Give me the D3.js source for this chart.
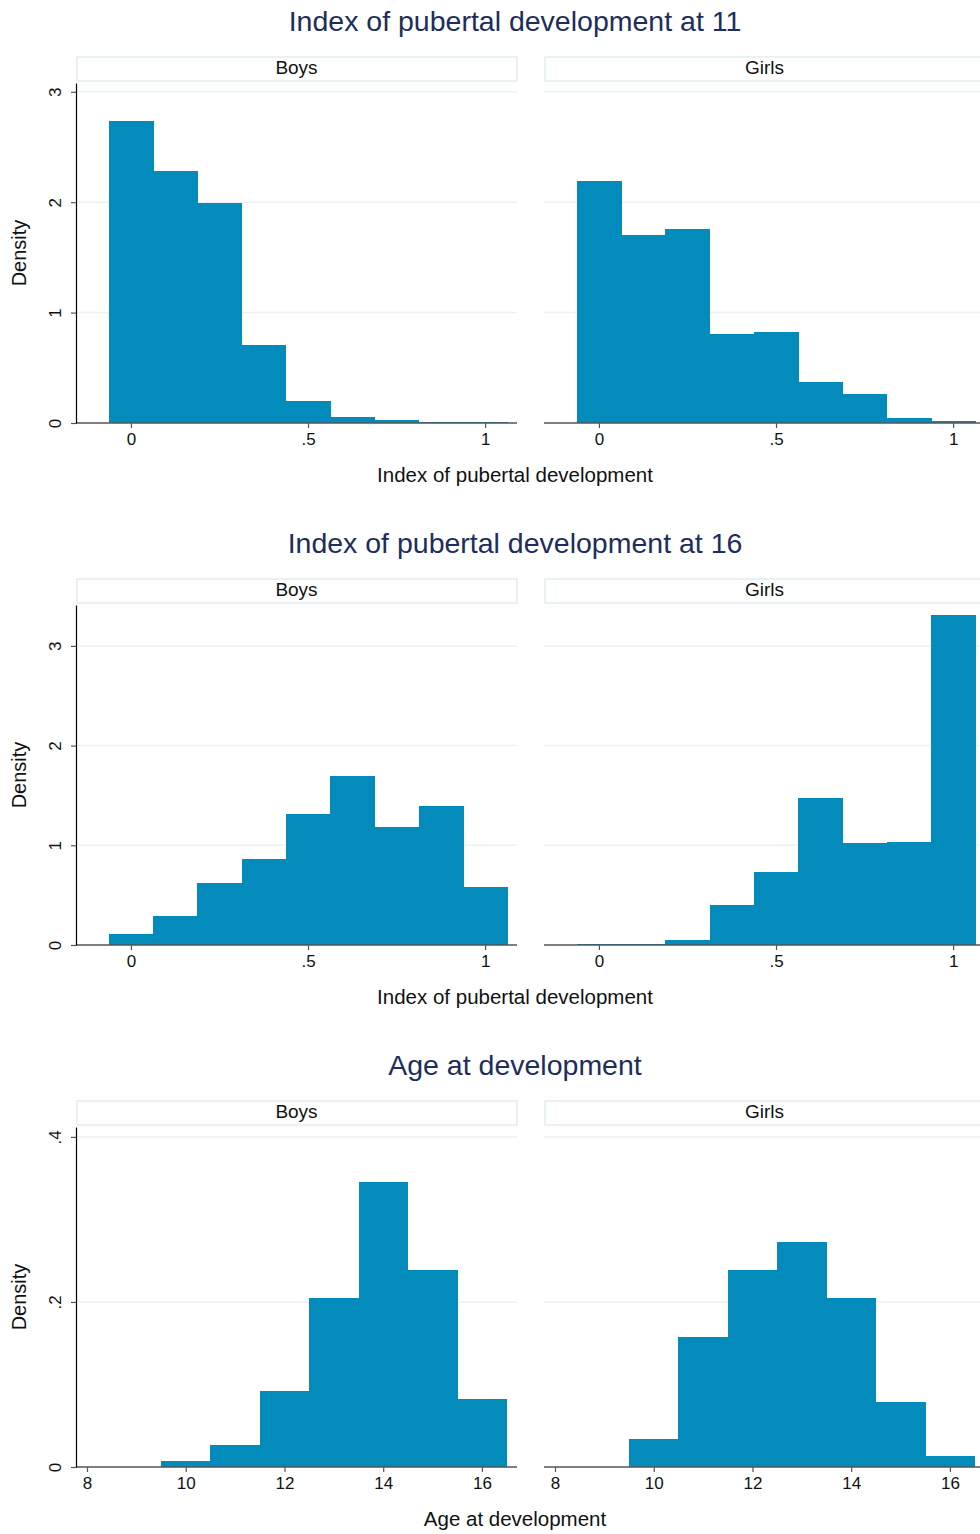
<!DOCTYPE html>
<html>
<head>
<meta charset="utf-8">
<script src="https://cdn.jsdelivr.net/npm/d3@7"></script>
<style>
  body { margin: 0; background: #fff; }
  svg { display: block; font-family: "Liberation Sans", Arial, sans-serif; }
</style>
</head>
<body>
<script>
// facet labels and titles
let groups = ["Boys", "Girls"];
let panelTitles = ["Index of pubertal development at 11", "Index of pubertal development at 16", "Age at development"];
let xTitles = ["Index of pubertal development", "Index of pubertal development", "Age at development"];

// bin left edges
let pubertyBins = [-0.0625, 0.0625, 0.1875, 0.3125, 0.4375, 0.5625, 0.6875, 0.8125, 0.9375];
let pubertyBinWidth = 0.125;
let ageBins = [9.5, 10.5, 11.5, 12.5, 13.5, 14.5, 15.5];
let ageBinWidth = 1;

// densities
let boys11 = [2.74, 2.28, 1.99, 0.71, 0.20, 0.057, 0.027, 0.01, 0.01];
let girls11 = [2.19, 1.70, 1.76, 0.81, 0.82, 0.37, 0.26, 0.043, 0.018];
let boys16 = [0.11, 0.29, 0.62, 0.86, 1.31, 1.69, 1.18, 1.39, 0.58];
let girls16 = [0.015, 0.013, 0.053, 0.40, 0.73, 1.47, 1.02, 1.03, 3.31];
let boysAge = [0.0073, 0.0266, 0.0918, 0.2046, 0.345, 0.2385, 0.0826];
let girlsAge = [0.0338, 0.157, 0.239, 0.273, 0.205, 0.0786, 0.0129];

// ticks
let pubertyTicks = [0, 0.5, 1];
let ageTicks = [8, 10, 12, 14, 16];
let yTicks11 = [0, 1, 2, 3];
let yTicks16 = [0, 1, 2, 3];
let yTicksAge = [0, 0.2, 0.4];

let panels = [
  { title: panelTitles[0], xTitle: xTitles[0], bins: pubertyBins, bw: pubertyBinWidth,
    series: [boys11, girls11], xDomain: [-0.155, 1.09], yMax: 3.08, xTicks: pubertyTicks, yTicks: yTicks11 },
  { title: panelTitles[1], xTitle: xTitles[1], bins: pubertyBins, bw: pubertyBinWidth,
    series: [boys16, girls16], xDomain: [-0.155, 1.09], yMax: 3.41, xTicks: pubertyTicks, yTicks: yTicks16 },
  { title: panelTitles[2], xTitle: xTitles[2], bins: ageBins, bw: ageBinWidth,
    series: [boysAge, girlsAge], xDomain: [7.777, 16.71], yMax: 0.412, xTicks: ageTicks, yTicks: yTicksAge }
];

let w = 980;
let h = 1534;
let panelStep = 522;
let plotW = 441;
let plotTop = 83;
let plotBottom = 423;
let facetX = [76, 544];
let barColor = "#038bbb";

// stata style: drop leading zero
let fmt = (v) => {
  let s = String(+v.toFixed(3));
  return s.replace(/^0\./, ".");
};

let svg = d3.select("body")
  .append("svg")
  .attr("width", w)
  .attr("height", h);

panels.forEach((p, i) => {
  let g = svg.append("g").attr("transform", "translate(0," + (i * panelStep) + ")");

  g.append("text")
    .attr("x", 515)
    .attr("y", 31)
    .attr("text-anchor", "middle")
    .attr("font-size", "28.5px")
    .attr("fill", "#1e2d5c")
    .text(p.title);

  let yScale = d3.scaleLinear()
    .domain([0, p.yMax])
    .range([plotBottom, plotTop]);

  groups.forEach((grp, j) => {
    let x0 = facetX[j];
    let xScale = d3.scaleLinear()
      .domain(p.xDomain)
      .range([x0, x0 + plotW]);

    // strip
    g.append("rect")
      .attr("x", x0 + 1)
      .attr("y", 57)
      .attr("width", plotW - 1)
      .attr("height", 24)
      .attr("fill", "#fff")
      .attr("stroke", "#e3edf1")
      .attr("stroke-width", 1.5);
    g.append("text")
      .attr("x", x0 + plotW / 2)
      .attr("y", 73.5)
      .attr("text-anchor", "middle")
      .attr("font-size", "19px")
      .attr("fill", "#111")
      .text(grp);

    // gridlines
    g.selectAll(".grid" + j)
      .data(p.yTicks.filter((t) => t > 0))
      .enter()
      .append("line")
      .attr("x1", x0)
      .attr("x2", x0 + plotW)
      .attr("y1", (d) => yScale(d))
      .attr("y2", (d) => yScale(d))
      .attr("stroke", "#eaf2f3")
      .attr("stroke-width", 1.5);

    // bars
    let vals = p.series[j];
    g.selectAll(".bar" + j)
      .data(p.bins)
      .enter()
      .append("rect")
      .attr("x", (d) => xScale(d))
      .attr("width", (d) => xScale(d + p.bw) - xScale(d) + 0.6)
      .attr("y", (d, k) => yScale(vals[k]))
      .attr("height", (d, k) => yScale(0) - yScale(vals[k]))
      .attr("fill", barColor)
      .attr("shape-rendering", "crispEdges");

    // x axis
    let xAxis = d3.axisBottom(xScale)
      .tickValues(p.xTicks)
      .tickFormat(fmt)
      .tickSize(5)
      .tickSizeOuter(0);
    let xa = g.append("g")
      .attr("transform", "translate(0," + plotBottom + ")")
      .call(xAxis);
    xa.select(".domain").attr("stroke", "#555").attr("stroke-width", 1.5)
      .attr("d", "M" + x0 + ",0H" + (x0 + plotW));
    xa.selectAll(".tick line").attr("stroke", "#555").attr("stroke-width", 1.2);
    xa.selectAll(".tick text")
      .attr("font-size", "17px")
      .attr("fill", "#111")
      .attr("font-family", "Liberation Sans, Arial, sans-serif")
      .attr("y", 8)
      .attr("dy", "0.8em");

    // y axis on the left facet only
    if (j === 0) {
      let yAxis = d3.axisLeft(yScale)
        .tickValues(p.yTicks)
        .tickFormat(fmt)
        .tickSize(5)
        .tickSizeOuter(0);
      let ya = g.append("g")
        .attr("transform", "translate(" + x0 + ",0)")
        .call(yAxis);
      ya.select(".domain").attr("stroke", "#000").attr("stroke-width", 1.2);
      ya.selectAll(".tick line").attr("stroke", "#555").attr("stroke-width", 1.2);
      ya.selectAll(".tick text")
        .attr("font-size", "17px")
        .attr("fill", "#111")
        .attr("font-family", "Liberation Sans, Arial, sans-serif")
        .attr("text-anchor", "middle")
        .attr("x", 0)
        .attr("dy", 0)
        .attr("transform", "translate(-15,0) rotate(-90)");

      g.append("text")
        .attr("transform", "translate(26," + ((plotTop + plotBottom) / 2) + ") rotate(-90)")
        .attr("text-anchor", "middle")
        .attr("font-size", "20px")
        .attr("fill", "#111")
        .text("Density");
    }
  });

  g.append("text")
    .attr("x", 515)
    .attr("y", 482)
    .attr("text-anchor", "middle")
    .attr("font-size", "20.5px")
    .attr("fill", "#111")
    .text(p.xTitle);
});
</script>
</body>
</html>
